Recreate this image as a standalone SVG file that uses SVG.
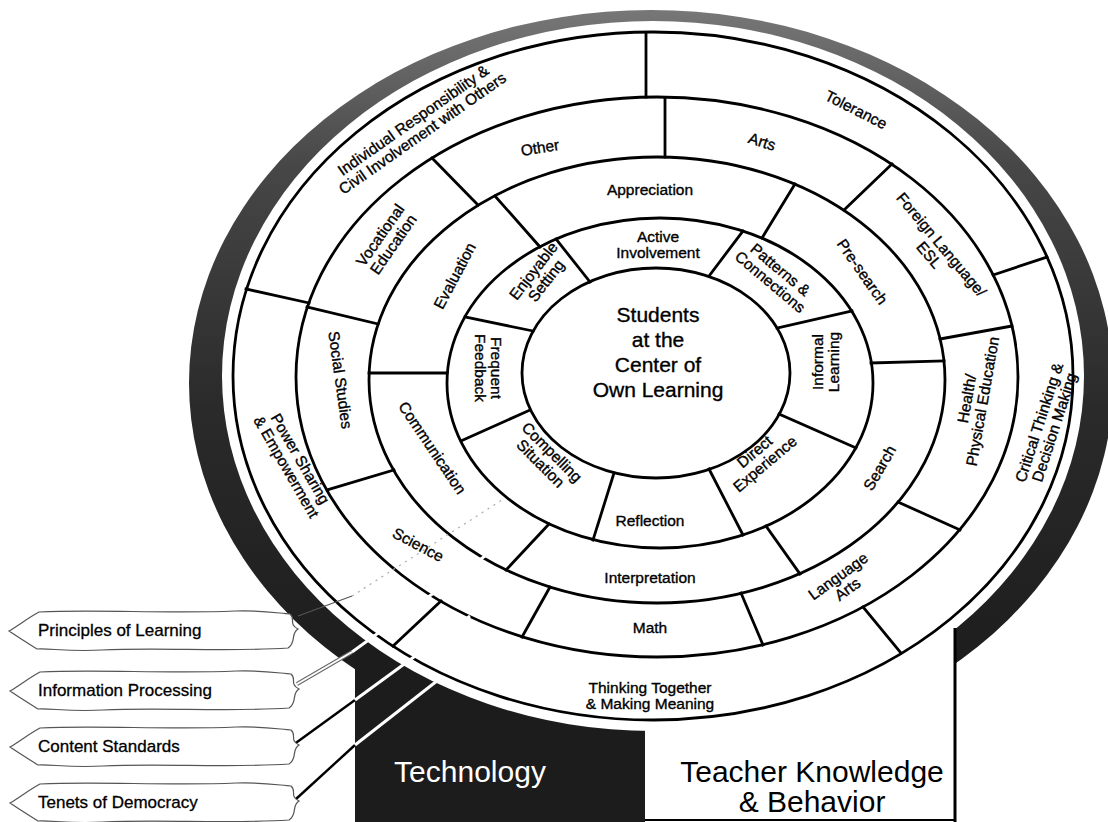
<svg xmlns="http://www.w3.org/2000/svg" width="1108" height="822" viewBox="0 0 1108 822">
<defs>
<linearGradient id="band" x1="0" y1="0" x2="0" y2="822" gradientUnits="userSpaceOnUse">
<stop offset="0" stop-color="#7a7a7a"/>
<stop offset="0.2" stop-color="#474747"/>
<stop offset="0.5" stop-color="#2a2a2a"/>
<stop offset="1" stop-color="#151515"/>
</linearGradient>
<path id="tag" d="M 32 3 C 90 0 160 5 228 2 C 252 1 270 4 283 5 C 289 10 281 15 291 20 C 283 25 290 33 281 39 C 222 43 150 38 95 41 C 62 43 42 39 30 40 C 22 35 11 28 2 22 C 12 16 21 9 32 3 Z"/>
<style>
.ring{fill:#fff;stroke:#000;stroke-width:2.8}
.dv{stroke:#000;stroke-width:2.8;fill:none;stroke-linecap:square}
.lb{font-family:"Liberation Sans",Arial,Helvetica,sans-serif;font-size:15.5px;fill:#000;stroke:#000;stroke-width:0.35;text-anchor:middle}
.ctr{font-family:"Liberation Sans",Arial,Helvetica,sans-serif;font-size:21px;fill:#000;stroke:#000;stroke-width:0.35;text-anchor:middle}
.big{font-family:"Liberation Sans",Arial,Helvetica,sans-serif;font-size:30px;text-anchor:middle}
.tg{fill:#fff;stroke:#555;stroke-width:1.2}
.tt{font-family:"Liberation Sans",Arial,Helvetica,sans-serif;font-size:17px;fill:#000;stroke:#000;stroke-width:0.3}
.wl{stroke:#fff;stroke-width:3;fill:none}
</style>
</defs>
<rect width="1108" height="822" fill="#fff"/>

<g id="frame">
<ellipse cx="651" cy="383" rx="462" ry="373" fill="url(#band)"/>
<rect x="355" y="600" width="290" height="222" fill="#1c1c1c"/>
<rect x="645" y="600" width="310" height="222" fill="#fff"/>
<ellipse cx="653" cy="376" rx="431" ry="355" fill="#fff"/>
<line x1="955" y1="628" x2="955" y2="822" stroke="#000" stroke-width="3"/>
<line x1="645" y1="820" x2="956" y2="820" stroke="#000" stroke-width="2"/>
</g>

<g id="rings">
<ellipse class="ring" cx="653" cy="376" rx="420" ry="344"/>
<ellipse class="ring" cx="657" cy="377" rx="361" ry="280"/>
<ellipse class="ring" cx="657" cy="380" rx="288" ry="223"/>
<ellipse class="ring" cx="660" cy="383" rx="213" ry="165"/>
<ellipse class="ring" cx="656" cy="373" rx="134" ry="105"/>
</g>

<g id="dividers">
<line class="dv" x1="646" y1="97" x2="646" y2="33"/>
<line class="dv" x1="993" y1="275" x2="1047" y2="257"/>
<line class="dv" x1="863" y1="607" x2="901" y2="653"/>
<line class="dv" x1="441" y1="601" x2="393" y2="646"/>
<line class="dv" x1="309" y1="303" x2="246" y2="289"/>
<line class="dv" x1="665" y1="157" x2="665" y2="98"/>
<line class="dv" x1="844" y1="210" x2="892" y2="164"/>
<line class="dv" x1="940" y1="339" x2="1012" y2="326"/>
<line class="dv" x1="898" y1="502" x2="960" y2="530"/>
<line class="dv" x1="741" y1="593" x2="763" y2="645"/>
<line class="dv" x1="550" y1="587" x2="522" y2="637"/>
<line class="dv" x1="394" y1="470" x2="327" y2="490"/>
<line class="dv" x1="378" y1="324" x2="307" y2="307"/>
<line class="dv" x1="478" y1="205" x2="432" y2="158"/>
<line class="dv" x1="762" y1="238" x2="795" y2="184"/>
<line class="dv" x1="871" y1="363" x2="944" y2="361"/>
<line class="dv" x1="766" y1="526" x2="800" y2="574"/>
<line class="dv" x1="549" y1="524" x2="506" y2="570"/>
<line class="dv" x1="369" y1="373" x2="447" y2="373"/>
<line class="dv" x1="540" y1="247" x2="495" y2="196"/>
<line class="dv" x1="590" y1="282" x2="556" y2="239"/>
<line class="dv" x1="709" y1="276" x2="743" y2="231"/>
<line class="dv" x1="777" y1="328" x2="852" y2="311"/>
<line class="dv" x1="779" y1="414" x2="856" y2="448"/>
<line class="dv" x1="709" y1="469" x2="743" y2="535"/>
<line class="dv" x1="614" y1="473" x2="593" y2="540"/>
<line class="dv" x1="530" y1="410" x2="461" y2="441"/>
<line class="dv" x1="533" y1="331" x2="465" y2="317"/>
</g>

<g id="connectors">
<line x1="298" y1="616" x2="352" y2="596" stroke="#555" stroke-width="1.2"/>
<line x1="352" y1="596" x2="505" y2="498" stroke="#aaa" stroke-width="1.2" stroke-dasharray="2 5"/>
<line x1="297" y1="684" x2="352" y2="652" stroke="#666" stroke-width="4"/>
<line x1="297" y1="684" x2="352" y2="652" stroke="#fff" stroke-width="2"/>
<line class="wl" x1="352" y1="652" x2="485" y2="556"/>
<line x1="293" y1="745" x2="355" y2="700" stroke="#000" stroke-width="2.4"/>
<line class="wl" x1="355" y1="700" x2="470" y2="616"/>
<line x1="296" y1="799" x2="355" y2="745" stroke="#000" stroke-width="2.4"/>
<line class="wl" x1="355" y1="745" x2="442" y2="677"/>
</g>

<g id="center"><text class="ctr"><tspan x="658" y="322">Students</tspan><tspan x="658" y="347">at the</tspan><tspan x="658" y="372">Center of</tspan><tspan x="658" y="397">Own Learning</tspan></text></g>

<g id="t-individual" transform="translate(418,127) rotate(-35)"><text class="lb"><tspan x="0" y="-3">Individual Responsibility &amp;</tspan><tspan x="0" y="13">Civil Involvement with Others</tspan></text></g>
<g id="t-tolerance" transform="translate(856,110) rotate(27)"><text class="lb" y="5">Tolerance</text></g>
<g id="t-critical" transform="translate(1047,425) rotate(-72)"><text class="lb"><tspan x="0" y="-3">Critical Thinking &amp;</tspan><tspan x="0" y="13">Decision Making</tspan></text></g>
<g id="t-thinking"><text class="lb"><tspan x="650" y="693">Thinking Together</tspan><tspan x="650" y="709">&amp; Making Meaning</tspan></text></g>
<g id="t-power" transform="translate(293,463) rotate(60)"><text class="lb"><tspan x="0" y="-3">Power Sharing</tspan><tspan x="0" y="13">&amp; Empowerment</tspan></text></g>

<g id="c-other" transform="translate(540,148) rotate(-9)"><text class="lb" y="5">Other</text></g>
<g id="c-arts" transform="translate(762,142) rotate(18)"><text class="lb" y="5">Arts</text></g>
<g id="c-foreign" transform="translate(935,250) rotate(50)"><text class="lb"><tspan x="0" y="-3">Foreign Language/</tspan><tspan x="0" y="13">ESL</tspan></text></g>
<g id="c-health" transform="translate(975,400) rotate(-80)"><text class="lb"><tspan x="0" y="-3">Health/</tspan><tspan x="0" y="13">Physical Education</tspan></text></g>
<g id="c-language" transform="translate(843,583) rotate(-36)"><text class="lb"><tspan x="0" y="-3">Language</tspan><tspan x="0" y="13">Arts</tspan></text></g>
<g id="c-math"><text class="lb" x="650" y="633">Math</text></g>
<g id="c-science" transform="translate(418,545) rotate(28)"><text class="lb" y="5">Science</text></g>
<g id="c-social" transform="translate(340,380) rotate(82)"><text class="lb" y="5">Social Studies</text></g>
<g id="c-vocational" transform="translate(387,240) rotate(-55)"><text class="lb"><tspan x="0" y="-3">Vocational</tspan><tspan x="0" y="13">Education</tspan></text></g>

<g id="i-appreciation"><text class="lb" x="650" y="195">Appreciation</text></g>
<g id="i-presearch" transform="translate(862,272) rotate(55)"><text class="lb" y="5">Pre-search</text></g>
<g id="i-search" transform="translate(880,468) rotate(-60)"><text class="lb" y="5">Search</text></g>
<g id="i-interpretation"><text class="lb" x="650" y="583">Interpretation</text></g>
<g id="i-communication" transform="translate(432,448) rotate(56)"><text class="lb" y="5">Communication</text></g>
<g id="i-evaluation" transform="translate(455,276) rotate(-62)"><text class="lb" y="5">Evaluation</text></g>

<g id="p-active"><text class="lb"><tspan x="658" y="242">Active</tspan><tspan x="658" y="258">Involvement</tspan></text></g>
<g id="p-patterns" transform="translate(775,276) rotate(40)"><text class="lb"><tspan x="0" y="-3">Patterns &amp;</tspan><tspan x="0" y="13">Connections</tspan></text></g>
<g id="p-informal" transform="translate(826,362) rotate(-90)"><text class="lb"><tspan x="0" y="-3">Informal</tspan><tspan x="0" y="13">Learning</tspan></text></g>
<g id="p-direct" transform="translate(760,458) rotate(-40)"><text class="lb"><tspan x="0" y="-3">Direct</tspan><tspan x="0" y="13">Experience</tspan></text></g>
<g id="p-reflection"><text class="lb" x="650" y="526">Reflection</text></g>
<g id="p-compelling" transform="translate(546,458) rotate(45)"><text class="lb"><tspan x="0" y="-3">Compelling</tspan><tspan x="0" y="13">Situation</tspan></text></g>
<g id="p-frequent" transform="translate(488,368) rotate(90)"><text class="lb"><tspan x="0" y="-3">Frequent</tspan><tspan x="0" y="13">Feedback</tspan></text></g>
<g id="p-enjoyable" transform="translate(540,276) rotate(-52)"><text class="lb"><tspan x="0" y="-3">Enjoyable</tspan><tspan x="0" y="13">Setting</tspan></text></g>

<g id="technology"><text class="big" x="470" y="782" fill="#fff" font-size="28">Technology</text></g>
<g id="teacher"><text class="big" fill="#000"><tspan x="812" y="782">Teacher Knowledge</tspan><tspan x="812" y="812">&amp; Behavior</tspan></text></g>

<g id="tag-principles"><use href="#tag" class="tg" transform="translate(7,609)"/><text class="tt" x="38" y="636">Principles of Learning</text></g>
<g id="tag-information"><use href="#tag" class="tg" transform="translate(8,669)"/><text class="tt" x="38" y="696">Information Processing</text></g>
<g id="tag-content"><use href="#tag" class="tg" transform="translate(8,725)"/><text class="tt" x="38" y="752">Content Standards</text></g>
<g id="tag-tenets"><use href="#tag" class="tg" transform="translate(8,781)"/><text class="tt" x="38" y="808">Tenets of Democracy</text></g>
</svg>
